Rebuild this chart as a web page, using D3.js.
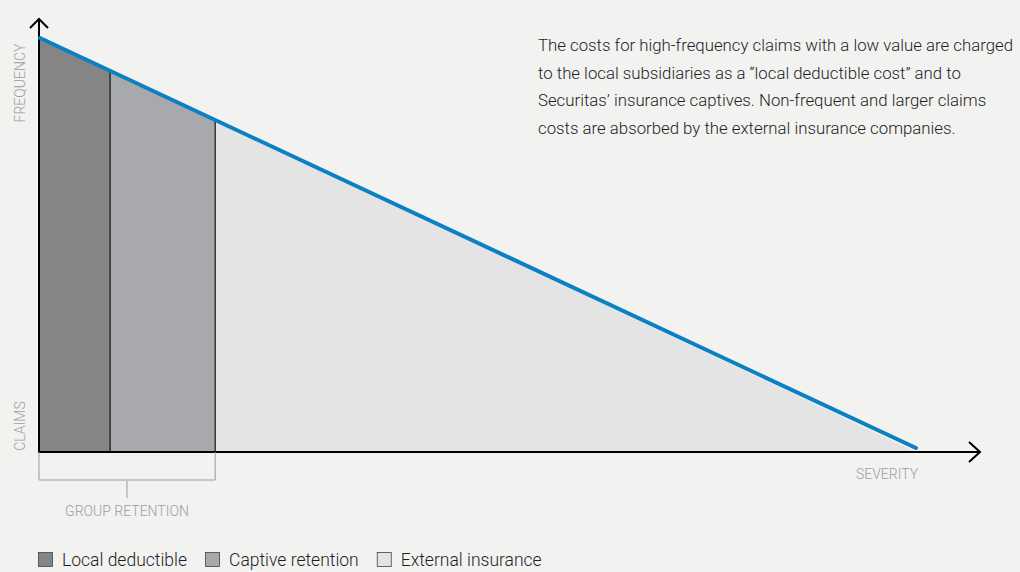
<!DOCTYPE html>
<html>
<head>
<meta charset="utf-8">
<script src="https://cdn.jsdelivr.net/npm/d3@7"></script>
<style>
  html, body { margin: 0; padding: 0; background: #f2f2f1; }
  svg { display: block; font-family: Roboto, "Open Sans", sans-serif; }
</style>
</head>
<body>
<div id="chart"></div>
<script>
// severity share (0-100) where each layer ends
const segments = ["Local deductible", "Captive retention", "External insurance"];
const segmentEnds = [8, 20, 100];
const segmentColors = ["#858585", "#a7a9ac", "#e4e4e4"];
// frequency falls linearly from 100 at severity 0 to 0 at severity 100
const curve = [[0, 100], [100, 0]];
const noteLines = [
  "The costs for high-frequency claims with a low value are charged",
  "to the local subsidiaries as a \u201clocal deductible cost\u201d and to",
  "Securitas\u2019 insurance captives. Non-frequent and larger claims",
  "costs are absorbed by the external insurance companies."
];

const width = 1020, height = 572;
const svg = d3.select("#chart").append("svg")
  .attr("width", width).attr("height", height);

const x = d3.scaleLinear().domain([0, 100]).range([40, 916]);
const y = d3.scaleLinear().domain([0, 100]).range([448, 38]);
const axisY = 452;

const freq = s => d3.scaleLinear().domain(curve.map(d => d[0])).range(curve.map(d => d[1]))(s);

// filled bands under the line
let start = 0;
segmentEnds.forEach((end, i) => {
  const pts = [[start, 0], [start, freq(start)], [end, freq(end)], [end, 0]];
  svg.append("path")
    .attr("d", d3.line().x(d => x(d[0])).y(d => d[1] === 0 ? axisY : y(d[1]))(pts) + "Z")
    .attr("fill", segmentColors[i]);
  start = end;
});

// dividers
segmentEnds.slice(0, 2).forEach(s => {
  svg.append("line")
    .attr("x1", x(s)).attr("x2", x(s))
    .attr("y1", y(freq(s))).attr("y2", axisY)
    .attr("stroke", "#111").attr("stroke-width", 1.2);
});

// axes
svg.append("line").attr("x1", 39).attr("x2", 39).attr("y1", 19).attr("y2", axisY + 1)
  .attr("stroke", "#000").attr("stroke-width", 2);
svg.append("path").attr("d", "M30,28 L39,19 L48,28")
  .attr("fill", "none").attr("stroke", "#000").attr("stroke-width", 2);
svg.append("line").attr("x1", 38).attr("x2", 980).attr("y1", axisY).attr("y2", axisY)
  .attr("stroke", "#000").attr("stroke-width", 2);
svg.append("path").attr("d", `M969,${axisY - 10} L980,${axisY} L969,${axisY + 10}`)
  .attr("fill", "none").attr("stroke", "#000").attr("stroke-width", 2);

// frequency line
svg.append("path")
  .attr("d", d3.line().x(d => x(d[0])).y(d => y(d[1]))(curve))
  .attr("fill", "none").attr("stroke", "#0b80c3").attr("stroke-width", 4)
  .attr("stroke-linecap", "round");

// axis labels
const grey = "#9d9d9d";
svg.append("text").attr("transform", "translate(25,83) rotate(-90)")
  .attr("text-anchor", "middle").attr("font-size", 14).attr("fill", grey)
  .attr("font-weight", 300).text("FREQUENCY");
svg.append("text").attr("transform", "translate(25,426) rotate(-90)")
  .attr("text-anchor", "middle").attr("font-size", 14).attr("fill", grey)
  .attr("font-weight", 300).text("CLAIMS");
svg.append("text").attr("x", 887).attr("y", 479)
  .attr("text-anchor", "middle").attr("font-size", 14).attr("fill", grey)
  .attr("font-weight", 300).text("SEVERITY");

// group retention bracket
const bx0 = x(0) - 1, bx1 = x(segmentEnds[1]);
svg.append("path")
  .attr("d", `M${bx0},${axisY} V480 H${bx1} V${axisY}`)
  .attr("fill", "none").attr("stroke", "#9a9a9a").attr("stroke-width", 1);
const bmid = 127;
svg.append("line").attr("x1", bmid).attr("x2", bmid).attr("y1", 481).attr("y2", 498)
  .attr("stroke", "#9a9a9a").attr("stroke-width", 1);
svg.append("text").attr("x", bmid).attr("y", 516)
  .attr("text-anchor", "middle").attr("font-size", 14).attr("fill", grey)
  .attr("font-weight", 300).text("GROUP RETENTION");

// note
const note = svg.append("text").attr("x", 538).attr("y", 51)
  .attr("font-size", 16.8).attr("font-weight", 300).attr("fill", "#1e1e1e");
noteLines.forEach((t, i) => {
  note.append("tspan").attr("x", 538).attr("dy", i === 0 ? 0 : 27.5).text(t);
});

// legend
const legend = svg.append("g").attr("transform", "translate(38,552)");
let lx = 0;
segments.forEach((name, i) => {
  const g = legend.append("g").attr("transform", `translate(${lx},0)`);
  g.append("rect").attr("x", 0.5).attr("y", 0.5).attr("width", 14).attr("height", 14)
    .attr("fill", segmentColors[i]).attr("stroke", "#444").attr("stroke-width", 0.8);
  const t = g.append("text").attr("x", 24).attr("y", 14)
    .attr("font-size", 17.5).attr("font-weight", 300).attr("fill", "#1e1e1e").text(name);
  lx += 24 + t.node().getComputedTextLength() + 18;
});
</script>
</body>
</html>
